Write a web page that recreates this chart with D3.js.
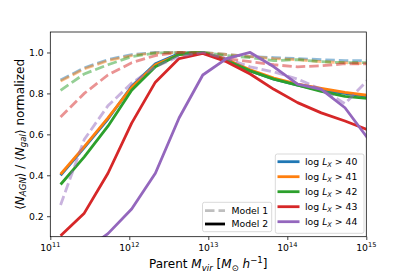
<!DOCTYPE html>
<html>
<head>
<meta charset="utf-8">
<script src="https://cdn.jsdelivr.net/npm/d3@7"></script>
<style>
    html, body { margin: 0; padding: 0; background: #fff; }
    svg { display: block; font-family: 'DejaVu Sans', sans-serif; }
</style>
</head>
<body>
<div id="app"></div>
<script>
// log10 of parent halo mass, bin centres
const log_mass = [11.13, 11.43, 11.73, 12.03, 12.33, 12.63, 12.93, 13.23, 13.53, 13.83, 14.13, 14.43, 14.73, 15.03]

// luminosity thresholds (log L_X >)
const lum_cuts = [40, 41, 42, 43, 44]

// model 1 (dashed, faded)
const model1_40 = [0.865, 0.925, 0.965, 0.99, 1.0, 1.0, 1.0, 0.99, 0.98, 0.975, 0.97, 0.965, 0.96, 0.96]
const model1_41 = [0.86, 0.92, 0.96, 0.985, 0.998, 1.0, 1.0, 0.99, 0.98, 0.97, 0.965, 0.955, 0.95, 0.945]
const model1_42 = [0.815, 0.895, 0.94, 0.98, 0.997, 1.0, 1.0, 0.985, 0.975, 0.96, 0.965, 0.955, 0.95, 0.95]
const model1_43 = [0.685, 0.80, 0.89, 0.95, 0.985, 1.0, 0.995, 0.97, 0.955, 0.94, 0.93, 0.935, 0.945, 0.945]
const model1_44 = [0.255, 0.575, 0.74, 0.85, 0.93, 0.98, 1.0, 0.97, 0.93, 0.905, 0.87, 0.82, 0.75, 0.87]

// model 2 (solid)
const model2_40 = [0.40, 0.535, 0.675, 0.835, 0.945, 0.995, 1.0, 0.965, 0.91, 0.87, 0.84, 0.815, 0.80, 0.785]
const model2_41 = [0.405, 0.54, 0.68, 0.83, 0.94, 0.99, 1.0, 0.965, 0.915, 0.875, 0.845, 0.825, 0.805, 0.79]
const model2_42 = [0.355, 0.49, 0.64, 0.815, 0.93, 0.99, 1.0, 0.96, 0.91, 0.87, 0.84, 0.81, 0.785, 0.775]
const model2_43 = [0.105, 0.215, 0.41, 0.655, 0.855, 0.97, 0.995, 0.955, 0.895, 0.82, 0.755, 0.705, 0.665, 0.62]
const model2_44 = [0.01, 0.03, 0.115, 0.235, 0.41, 0.68, 0.89, 0.97, 1.0, 0.93, 0.845, 0.82, 0.73, 0.575]

const model1 = [model1_40, model1_41, model1_42, model1_43, model1_44]
const model2 = [model2_40, model2_41, model2_42, model2_43, model2_44]

const colors = ['#1f77b4', '#ff7f0e', '#2ca02c', '#d62728', '#9467bd']

// axis ticks
const x_major = [11, 12, 13, 14, 15]
const y_ticks = [0.2, 0.4, 0.6, 0.8, 1.0]

const W = 407
const H = 271
const P_LEFT = 50.3
const P_RIGHT = 366.3
const P_TOP = 32
const P_BOTTOM = 236.7
const LW = 2.8
const TICK_FONT = 9.3
const LABEL_FONT = 12
const SUB_FONT = 8.6

const svg = d3.select('#app').append('svg')
    .attr('width', W)
    .attr('height', H)

const x = d3.scaleLog().domain([1e11, 1e15]).range([P_LEFT, P_RIGHT])
const y = d3.scaleLinear().domain([0.1, 1.1]).range([P_BOTTOM, P_TOP])

// clip lines to the axes box like matplotlib does
svg.append('defs').append('clipPath').attr('id', 'plot-clip')
    .append('rect')
    .attr('x', P_LEFT).attr('y', P_TOP)
    .attr('width', P_RIGHT - P_LEFT).attr('height', P_BOTTOM - P_TOP)

const line = d3.line()
    .x((d, i) => x(Math.pow(10, log_mass[i])))
    .y(d => y(d))

const plot = svg.append('g').attr('clip-path', 'url(#plot-clip)')

// per luminosity cut: faded dashed model 1, then solid model 2
lum_cuts.forEach((cut, k) => {
    plot.append('path')
        .attr('d', line(model1[k]))
        .attr('fill', 'none')
        .attr('stroke', colors[k])
        .attr('stroke-opacity', 0.5)
        .attr('stroke-width', LW)
        .attr('stroke-dasharray', '9.5,4')
    plot.append('path')
        .attr('d', line(model2[k]))
        .attr('fill', 'none')
        .attr('stroke', colors[k])
        .attr('stroke-width', LW)
        .attr('stroke-linejoin', 'round')
})

// minor ticks on the log axis
const x_minor = []
for (let e = 11; e < 15; e++) {
    for (let m = 2; m <= 9; m++) x_minor.push(m * Math.pow(10, e))
}

const x_axis = svg.append('g')
    .attr('transform', `translate(0,${P_BOTTOM})`)
x_axis.call(d3.axisBottom(x).tickValues(x_minor).tickSize(1.9).tickFormat(''))
x_axis.call(d3.axisBottom(x).tickValues(x_major.map(e => Math.pow(10, e))).tickSize(3.3).tickFormat(''))
x_axis.selectAll('.domain').remove()
x_axis.selectAll('line').attr('stroke', '#000').attr('stroke-width', 0.75)

// tick labels as 10^n with superscript
x_major.forEach(e => {
    const t = svg.append('text')
        .attr('x', x(Math.pow(10, e)))
        .attr('y', 251)
        .attr('text-anchor', 'middle')
        .attr('font-size', TICK_FONT)
    t.append('tspan').text('10')
    t.append('tspan').attr('dy', -4).attr('font-size', 6.6).text(e)
})

const y_axis = svg.append('g')
    .attr('transform', `translate(${P_LEFT},0)`)
    .call(d3.axisLeft(y).tickValues(y_ticks).tickSize(3.3).tickPadding(3.2).tickFormat(d3.format('.1f')))
y_axis.selectAll('.domain').remove()
y_axis.selectAll('line').attr('stroke', '#000').attr('stroke-width', 0.75)
y_axis.selectAll('text')
    .attr('font-size', TICK_FONT)
    .attr('font-family', 'DejaVu Sans')
    .attr('fill', '#000')

// axes box
svg.append('rect')
    .attr('x', P_LEFT).attr('y', P_TOP)
    .attr('width', P_RIGHT - P_LEFT).attr('height', P_BOTTOM - P_TOP)
    .attr('fill', 'none')
    .attr('stroke', '#000')
    .attr('stroke-width', 0.75)

// x label: Parent M_vir [M_sun h^-1]
const xl = svg.append('text')
    .attr('x', (P_LEFT + P_RIGHT) / 2)
    .attr('y', 268)
    .attr('text-anchor', 'middle')
    .attr('font-size', LABEL_FONT)
xl.append('tspan').text('Parent ')
xl.append('tspan').attr('font-style', 'italic').text('M')
xl.append('tspan').attr('font-style', 'italic').attr('font-size', SUB_FONT).attr('dy', 2.5).text('vir')
xl.append('tspan').attr('dy', -2.5).text(' [')
xl.append('tspan').attr('font-style', 'italic').text('M')
xl.append('tspan').attr('font-size', SUB_FONT).attr('dy', 2.5).text('⊙')
xl.append('tspan').attr('dy', -2.5).text('  ')
xl.append('tspan').attr('font-style', 'italic').text('h')
xl.append('tspan').attr('font-size', SUB_FONT).attr('dy', -5).text('−1')
xl.append('tspan').attr('dy', 5).text(']')

// y label: <N_AGN> / <N_gal> normalized
const yl = svg.append('text')
    .attr('transform', `translate(23.5,${(P_TOP + P_BOTTOM) / 2}) rotate(-90)`)
    .attr('text-anchor', 'middle')
    .attr('font-size', LABEL_FONT)
yl.append('tspan').text('⟨')
yl.append('tspan').attr('font-style', 'italic').text('N')
yl.append('tspan').attr('font-style', 'italic').attr('font-size', SUB_FONT).attr('dy', 2.5).text('AGN')
yl.append('tspan').attr('dy', -2.5).text('⟩ / ⟨')
yl.append('tspan').attr('font-style', 'italic').text('N')
yl.append('tspan').attr('font-style', 'italic').attr('font-size', SUB_FONT).attr('dy', 2.5).text('gal')
yl.append('tspan').attr('dy', -2.5).text('⟩ normalized')

// legend box helper, matplotlib style frame
const legend_box = (x0, y0, w, h) => svg.append('rect')
    .attr('x', x0).attr('y', y0)
    .attr('width', w).attr('height', h)
    .attr('rx', 2)
    .attr('fill', '#fff')
    .attr('fill-opacity', 0.8)
    .attr('stroke', '#ccc')
    .attr('stroke-width', 0.75)

// model legend
legend_box(202.5, 202.3, 69.2, 29.4)
const model_rows = [
    { label: 'Model 1', color: 'grey', opacity: 0.5, dash: '9.5,4' },
    { label: 'Model 2', color: '#000', opacity: 1, dash: null },
]
model_rows.forEach((r, i) => {
    const yy = 210.7 + i * 13.3
    svg.append('line')
        .attr('x1', 205).attr('x2', 225)
        .attr('y1', yy).attr('y2', yy)
        .attr('stroke', r.color)
        .attr('stroke-opacity', r.opacity)
        .attr('stroke-width', LW)
        .attr('stroke-dasharray', r.dash)
    svg.append('text')
        .attr('x', 231.5).attr('y', yy + 3.3)
        .attr('font-size', TICK_FONT)
        .text(r.label)
})

// luminosity legend
legend_box(275.3, 154, 88.7, 79.3)
lum_cuts.forEach((cut, k) => {
    const yy = 161.7 + k * 15
    svg.append('line')
        .attr('x1', 277.5).attr('x2', 299.5)
        .attr('y1', yy).attr('y2', yy)
        .attr('stroke', colors[k])
        .attr('stroke-width', LW)
    const t = svg.append('text')
        .attr('x', 305).attr('y', yy + 3.3)
        .attr('font-size', TICK_FONT)
    t.append('tspan').text('log ')
    t.append('tspan').attr('font-style', 'italic').text('L')
    t.append('tspan').attr('font-style', 'italic').attr('font-size', 6.6).attr('dy', 2).text('X')
    t.append('tspan').attr('dy', -2).text(' > ' + cut)
})
</script>
</body>
</html>
